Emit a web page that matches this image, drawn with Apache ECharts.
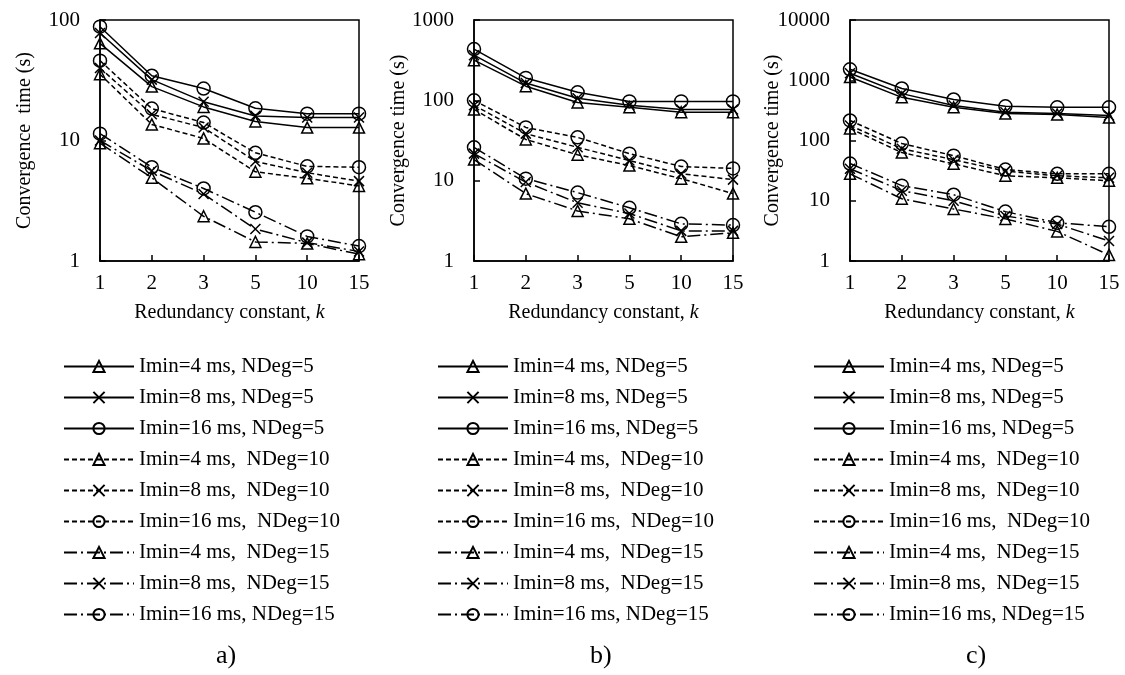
<!DOCTYPE html>
<html>
<head>
<meta charset="UTF-8">
<title>Convergence time</title>
<script src="https://cdn.jsdelivr.net/npm/echarts@6/dist/echarts.min.js"></script>
<style>
  html, body { margin: 0; padding: 0; background: #fff; }
</style>
</head>
<body>
<div id="chart" style="width:1125px;height:675px;"></div>
<script>
// redundancy constant k
var kLabels = ['1', '2', '3', '5', '10', '15'];

var names = [
    'Imin=4 ms, NDeg=5', 'Imin=8 ms, NDeg=5', 'Imin=16 ms, NDeg=5',
    'Imin=4 ms,  NDeg=10', 'Imin=8 ms,  NDeg=10', 'Imin=16 ms,  NDeg=10',
    'Imin=4 ms,  NDeg=15', 'Imin=8 ms,  NDeg=15', 'Imin=16 ms, NDeg=15'
];

// a)
var a_4_5 = [64, 28, 19, 14.4, 12.8, 12.8];
var a_8_5 = [78, 32, 21, 16, 15.5, 15.5];
var a_16_5 = [88, 34.5, 27, 18.5, 16.7, 16.7];
var a_4_10 = [35.5, 13.6, 10.4, 5.5, 4.85, 4.2];
var a_8_10 = [40, 16.5, 12.8, 6.7, 5.4, 4.6];
var a_16_10 = [46, 18.4, 14.1, 7.9, 6.1, 6.0];
var a_4_15 = [9.5, 4.9, 2.35, 1.44, 1.4, 1.14];
var a_8_15 = [10, 5.6, 3.6, 1.84, 1.42, 1.2];
var a_16_15 = [11.4, 6.0, 4.0, 2.54, 1.6, 1.33];

// b)
var b_4_5 = [316, 150, 94, 82, 71, 71];
var b_8_5 = [365, 164, 106, 87, 77, 77];
var b_16_5 = [435, 190, 126, 97, 97, 97];
var b_4_10 = [77, 32.6, 21, 15.4, 10.6, 6.9];
var b_8_10 = [87, 38.5, 26, 17.8, 12.2, 10.3];
var b_16_10 = [100, 46, 34.6, 21.7, 15, 14.2];
var b_4_15 = [18.3, 6.9, 4.2, 3.35, 2.0, 2.24];
var b_8_15 = [21.7, 9.6, 5.3, 3.9, 2.37, 2.37];
var b_16_15 = [26, 10.6, 7.1, 4.6, 2.9, 2.8];

// c)
var c_4_5 = [1130, 520, 355, 280, 270, 240];
var c_8_5 = [1310, 600, 380, 295, 280, 260];
var c_16_5 = [1520, 730, 480, 370, 355, 355];
var c_4_10 = [158, 63, 41, 26, 24, 21.5];
var c_8_10 = [178, 73, 48, 31, 26, 24];
var c_16_10 = [215, 89, 56, 33, 28, 28];
var c_4_15 = [28, 10.8, 7.3, 5.0, 3.1, 1.26];
var c_8_15 = [34, 14.7, 10, 5.6, 4.1, 2.15];
var c_16_15 = [41.5, 17.8, 12.6, 6.6, 4.3, 3.7];

var yMax = [100, 1000, 10000];
var captions = ['a)', 'b)', 'c)'];

var panels = [
    [a_4_5, a_8_5, a_16_5, a_4_10, a_8_10, a_16_10, a_4_15, a_8_15, a_16_15],
    [b_4_5, b_8_5, b_16_5, b_4_10, b_8_10, b_16_10, b_4_15, b_8_15, b_16_15],
    [c_4_5, c_8_5, c_16_5, c_4_10, c_8_10, c_16_10, c_4_15, c_8_15, c_16_15]
];

var FONT = 'Liberation Serif';
var CROSS = 'path://M0,0L10,10M10,0L0,10';
var symbols = ['triangle', CROSS, 'circle'];
var symbolSizes = [11, 10, 13];
var dashes = ['solid', [5, 3], [13, 4, 2, 4]];

var gridLeft = [100, 474, 850];
var nameGaps = [65, 65, 67];

var chart = echarts.init(document.getElementById('chart'));

var grids = [], xAxes = [], yAxes = [], legends = [], titles = [], series = [];

for (var p = 0; p < 3; p++) {
    grids.push({
        left: gridLeft[p], top: 20, width: 259, height: 241,
        show: true, borderColor: '#000', borderWidth: 1.5, backgroundColor: 'transparent'
    });
    xAxes.push({
        type: 'category', gridIndex: p, data: kLabels, boundaryGap: false,
        axisLine: { lineStyle: { color: '#000', width: 1.5 } },
        axisTick: { inside: true, length: 6, alignWithLabel: true, lineStyle: { color: '#000', width: 1.5 } },
        axisLabel: { color: '#000', fontFamily: FONT, fontSize: 21, margin: 12 },
        splitLine: { show: false },
        name: 'Redundancy constant, {i|k}', nameLocation: 'middle', nameGap: 42,
        nameTextStyle: {
            color: '#000', fontFamily: FONT, fontSize: 20,
            rich: { i: { fontStyle: 'italic', fontFamily: FONT, fontSize: 20, color: '#000' } }
        }
    });
    yAxes.push({
        type: 'log', logBase: 10, gridIndex: p, min: 1, max: yMax[p],
        axisLine: { show: true, lineStyle: { color: '#000', width: 1.5 } },
        axisTick: { show: true, inside: true, length: 6, lineStyle: { color: '#000', width: 1.5 } },
        minorTick: { show: false },
        axisLabel: {
            color: '#000', fontFamily: FONT, fontSize: 21, margin: 20,
            formatter: function (v) { return String(Math.round(v)); }
        },
        splitLine: { show: false },
        name: p === 0 ? 'Convergence  time (s)' : 'Convergence time (s)',
        nameLocation: 'middle', nameGap: nameGaps[p], nameMoveOverlap: false,
        nameTextStyle: { color: '#000', fontFamily: FONT, fontSize: 20 }
    });
    legends.push({
        orient: 'vertical', left: gridLeft[p] - 42, top: 351,
        itemWidth: 70, itemHeight: 14, itemGap: 10,
        selectedMode: false,
        data: names,
        textStyle: { color: '#000', fontFamily: FONT, fontSize: 21 }
    });
    titles.push({
        text: captions[p], left: gridLeft[p] + 111, top: 638,
        textStyle: { color: '#000', fontFamily: FONT, fontSize: 26, fontWeight: 'normal' }
    });
    for (var s = 0; s < 9; s++) {
        series.push({
            type: 'line', name: names[s],
            xAxisIndex: p, yAxisIndex: p,
            data: panels[p][s],
            symbol: symbols[s % 3], symbolSize: symbolSizes[s % 3],
            showAllSymbol: true,
            lineStyle: { color: '#000', width: 1.5, type: dashes[Math.floor(s / 3)] },
            itemStyle: { color: 'rgba(0,0,0,0)', borderColor: '#000', borderWidth: 1.5 },
            emphasis: { disabled: true },
            animation: false,
            z: 2
        });
    }
}

chart.setOption({
    backgroundColor: '#fff',
    animation: false,
    title: titles,
    grid: grids,
    xAxis: xAxes,
    yAxis: yAxes,
    legend: legends,
    series: series
});
</script>
</body>
</html>
